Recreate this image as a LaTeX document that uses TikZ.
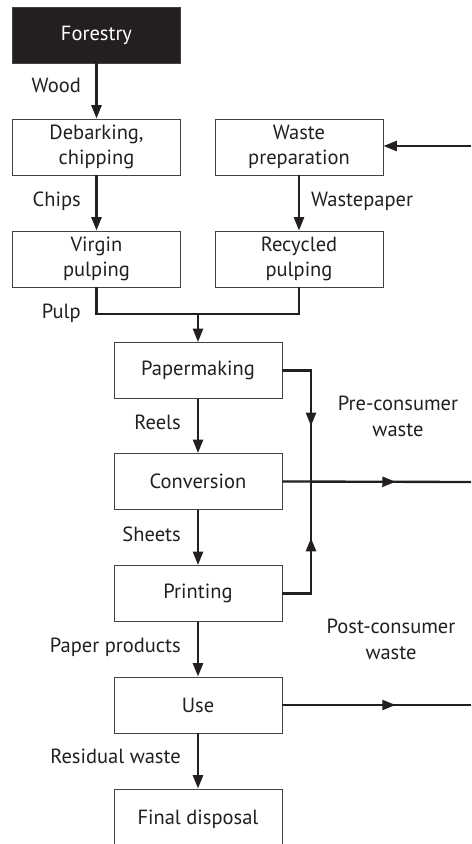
\documentclass[tikz,border=0pt]{standalone}
\usepackage{fontspec}
\setmainfont{PT Sans}
\usetikzlibrary{arrows.meta, decorations.markings}
\definecolor{tinta}{HTML}{231F20}
\tikzset{
  caja/.style={rectangle, draw=tinta!85, line width=0.8pt, fill=white, minimum width=5.04cm, minimum height=1.68cm,
               text centered, align=center, text=tinta, inner sep=0pt, font=\fontsize{17.5}{21.5}\selectfont},
  cajanegra/.style={caja, fill=tinta, text=white},
  linea/.style={line width=2pt, color=tinta},
  flujo/.style={linea, -{Triangle[length=4mm,width=3mm]}},
  flujomedio/.style={linea, postaction={decorate},
                     decoration={markings, mark=at position #1 with {\arrow{Triangle[length=4mm,width=3mm]}}}},
  etiqueta/.style={text=tinta, inner sep=0pt, align=center, font=\fontsize{17.5}{21.5}\selectfont}
}

\begin{document}
\begin{tikzpicture}[x=0.03cm, y=-0.03cm]
  \useasboundingbox (0,0) rectangle (471,844);
  % Cadena de fibra virgen y reciclada
  \node (forestry) [cajanegra] at (96.5,35) {Forestry};
  \node (debark) [caja] at (96.5,147) {Debarking,\\ chipping};
  \node (wprep) [caja] at (299,147) {Waste\\ preparation};
  \node (virgin) [caja] at (96.5,259) {Virgin\\ pulping};
  \node (recyc) [caja] at (299,259) {Recycled\\ pulping};
  % Cadena principal
  \node (paperm) [caja] at (198,370.5) {Papermaking};
  \node (conv) [caja] at (198,481.5) {Conversion};
  \node (print) [caja] at (198,593.5) {Printing};
  \node (use) [caja] at (198,705) {Use};
  \node (final) [caja, minimum height=1.8cm] at (198,819) {Final disposal};
  \coordinate (pulpa) at (198,314);
  \coordinate (cruce) at (311,482);
  \coordinate (entrada) at (471,146);
  \coordinate (salidapre) at (471,482);
  \coordinate (salidapost) at (471,705);
  \draw [flujo] (forestry) -- (debark);
  \draw [flujo] (debark) -- (virgin);
  \draw [flujo] (wprep) -- (recyc);
  \draw [flujo] (entrada) -- (wprep.east |- entrada);
  \draw [linea] (virgin.south) |- (pulpa) -| (recyc.south);
  \draw [flujo] (pulpa) -- (paperm);
  \draw [flujo] (paperm) -- (conv);
  \draw [flujo] (conv) -- (print);
  \draw [flujo] (print) -- (use);
  \draw [flujo] (use) -- (final);
  % Residuos
  \draw [flujomedio=0.6] (paperm.east) -| (cruce);
  \draw [flujomedio=0.6] (print.east) -| (cruce);
  \draw [flujomedio=0.6] (conv.east) -- (salidapre);
  \draw [flujomedio=0.6] (use.east) -- (salidapost);
  % Etiquetas
  \node (lwood) [etiqueta, anchor=base east] at (81,93) {Wood};
  \node (lchips) [etiqueta, anchor=base east] at (81,206) {Chips};
  \node (lwaste) [etiqueta, anchor=base west] at (311,206) {Wastepaper};
  \node (lpulp) [etiqueta, anchor=base east] at (81,318) {Pulp};
  \node (lreels) [etiqueta, anchor=base east] at (181,429) {Reels};
  \node (lsheets) [etiqueta, anchor=base east] at (181,541) {Sheets};
  \node (lprod) [etiqueta, anchor=base east] at (181,652) {Paper products};
  \node (lresid) [etiqueta, anchor=base east] at (181,763) {Residual waste};
  \node (lpre) [etiqueta, anchor=base] at (398,436) {Pre-consumer\\ waste};
  \node (lpost) [etiqueta, anchor=base] at (391,659) {Post-consumer\\ waste};
\end{tikzpicture}
\end{document}
